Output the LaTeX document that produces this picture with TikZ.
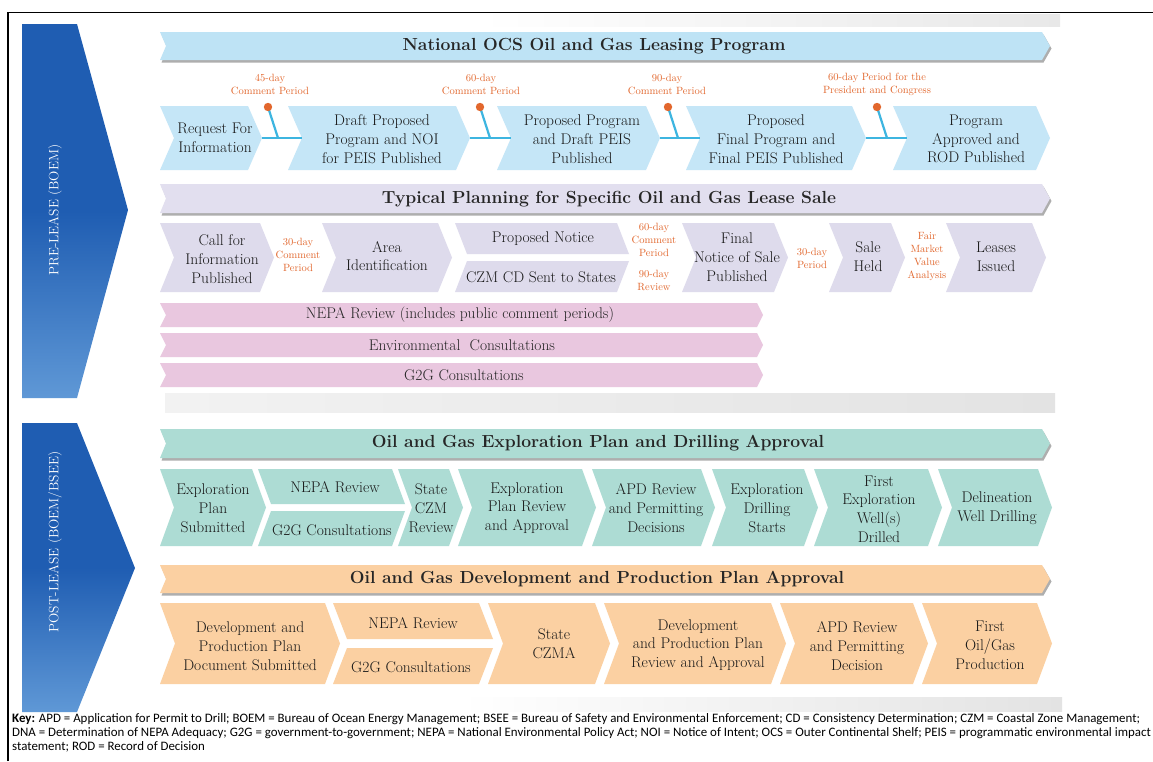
\documentclass[tikz,border=0pt]{standalone}
\usepackage{fontspec}
\newfontfamily\keyfont{Carlito}
\usetikzlibrary{shadows}

\definecolor{rowblue}{HTML}{C5E6F7}
\definecolor{headblue}{HTML}{BEE3F5}
\definecolor{rowlav}{HTML}{DEDBEC}
\definecolor{headlav}{HTML}{E2DFEF}
\definecolor{rowpink}{HTML}{E9C7DF}
\definecolor{rowteal}{HTML}{ADDCD4}
\definecolor{rowpeach}{HTML}{FBD0A2}
\definecolor{notecol}{HTML}{E2672D}
\definecolor{tcyan}{HTML}{3DB5E0}
\definecolor{leasedark}{HTML}{1F5DB2}
\definecolor{leaselight}{HTML}{5F98D6}

\tikzset{
  boxtext/.style={align=center, inner sep=0pt, font=\fontsize{15.5}{18.8}\selectfont, text=black!90},
  notetext/.style={align=center, inner sep=0pt, font=\fontsize{10.5}{13}\selectfont, text=notecol},
  headtext/.style={inner sep=0pt, font=\fontsize{17.5}{20}\selectfont\bfseries, text=black!85},
  bartext/.style={inner sep=0pt, font=\fontsize{15.5}{18}\selectfont, text=black!85},
  sidetext/.style={inner sep=0pt, rotate=90, text=white, font=\fontsize{13.5}{15}\selectfont},
  keytext/.style={anchor=base west, inner sep=0pt, font=\keyfont\fontsize{12.9}{14}\selectfont},
  headshadow/.style={drop shadow={shadow xshift=1.5pt, shadow yshift=-2.5pt, opacity=.45, fill=black!70}},
  tline/.style={tcyan, line width=2.2pt},
  tdot/.style={fill=notecol},
}

% chevron: style, x1, x2, y1, y2, depth
\newcommand{\chev}[6]{\fill[#1] (#2,#4) -- ({#3-#6},#4) -- (#3,{(#4+#5)/2}) -- ({#3-#6},#5) -- (#2,#5) -- ({#2+#6},{(#4+#5)/2}) -- cycle;}
\newcommand{\chevtop}[6]{\fill[#1] (#2,#4) -- ({#3-#6},#4) -- (#3,#5) -- ({#2+#6},#5) -- cycle;}
\newcommand{\chevbot}[6]{\fill[#1] ({#2+#6},#4) -- (#3,#4) -- ({#3-#6},#5) -- (#2,#5) -- cycle;}
% header ribbon: style, y1, y2
\newcommand{\headbar}[3]{\fill[#1, headshadow] (160,#2) -- (1042,#2) -- (1050,{(#2+#3)/2}) -- (1042,#3) -- (160,#3) -- (166,{(#2+#3)/2}) -- cycle;}

\begin{document}
\begin{tikzpicture}[x=1pt,y=-1pt]
\fill[white] (0,0) rectangle (1153,761);
\useasboundingbox (0,0) rectangle (1153,761);

% frame and gray bands
\draw[line width=1.2pt] (8,761) -- (8,12.5) -- (1153,12.5);
\shade[left color=white, right color=black!9] (480,14) rectangle (1060,26);
\shade[left color=black!5, right color=black!11] (165,393) rectangle (1055,412);
\shade[left color=white, right color=black!11] (460,697) rectangle (1062,711);

% side arrows
\shade[top color=leasedark, bottom color=leaselight, middle color=leasedark] (22,24) -- (77,24) -- (128,210) -- (77,398) -- (22,398) -- cycle;
\shade[top color=leasedark, bottom color=leaselight, middle color=leasedark] (22,423) -- (77,423) -- (135,568) -- (77,712) -- (22,712) -- cycle;
\node[sidetext] (pre) at (55,210) {PRE-LEASE (BOEM)};
\node[sidetext] (post) at (55,542) {POST-LEASE (BOEM/BSEE)};

% National program
\headbar{headblue}{32}{60}
\node[headtext] (h1) at (594,46) {National OCS Oil and Gas Leasing Program};
\chev{rowblue}{160}{262}{106}{170}{14}
\chev{rowblue}{288}{470}{106}{170}{14}
\chev{rowblue}{497}{660}{106}{170}{14}
\chev{rowblue}{686}{866}{106}{170}{14}
\chev{rowblue}{893}{1050}{106}{170}{14}
\node[boxtext] (req) at (215,138) {Request For\\Information};
\node[boxtext] (dpp) at (382,139) {Draft Proposed\\Program and NOI\\for PEIS Published};
\node[boxtext] (ppd) at (582,139) {Proposed Program\\and Draft PEIS\\Published};
\node[boxtext] (pfp) at (776,139) {Proposed\\Final Program and\\Final PEIS Published};
\node[boxtext] (pap) at (976,139) {Program\\Approved and\\ROD Published};
\node[notetext] (n45) at (270,84) {45-day\\Comment Period};
\node[notetext] (n60) at (481,84) {60-day\\Comment Period};
\node[notetext] (n90) at (667,84) {90-day\\Comment Period};
\node[notetext] (n60p) at (877,84) {60-day Period for the\\President and Congress};
\foreach \i/\dx/\ax/\bx in {1/268/262/302, 2/480/470/511, 3/668/660/700, 4/877/866/907} {
  \coordinate (dot\i) at (\dx,107);
  \coordinate (foot\i) at (\dx+10,138);
  \coordinate (gapa\i) at (\ax,138);
  \coordinate (gapb\i) at (\bx,138);
  \draw[tline] (gapa\i) -- (gapb\i);
  \draw[tline] (dot\i) -- (foot\i);
  \fill[tdot] (dot\i) circle (4.2pt);
}

% lease sale planning
\headbar{headlav}{184}{213}
\node[headtext] (h2) at (609,199) {Typical Planning for Specific Oil and Gas Lease Sale};
\chev{rowlav}{160}{274}{223}{292}{14}
\chev{rowlav}{322}{452}{223}{292}{14}
\chevtop{rowlav}{455}{629}{223}{254}{12}
\chevbot{rowlav}{455}{629}{261}{292}{12}
\chev{rowlav}{682}{788}{223}{292}{14}
\chev{rowlav}{829}{905}{223}{292}{14}
\chev{rowlav}{946}{1046}{223}{292}{14}
\node[boxtext] (cfi) at (222,259) {Call for\\Information\\Published};
\node[boxtext] (aid) at (387,256) {Area\\Identification};
\node[boxtext] (pnot) at (543,239) {Proposed Notice};
\node[boxtext] (czm) at (541,277) {CZM CD Sent to States};
\node[boxtext] (fns) at (737,257) {Final\\Notice of Sale\\Published};
\node[boxtext] (sale) at (868,257) {Sale\\Held};
\node[boxtext] (lease) at (996,257) {Leases\\Issued};
\node[notetext] (n30) at (298,255) {30-day\\Comment\\Period};
\node[notetext] (n60c) at (654,240) {60-day\\Comment\\Period};
\node[notetext] (n90r) at (654,280) {90-day\\Review};
\node[notetext] (n30p) at (812,258) {30-day\\Period};
\node[notetext] (nfmv) at (927,256) {Fair\\Market\\Value\\Analysis};

% parallel reviews
\chev{rowpink}{160}{763}{303}{327}{6}
\chev{rowpink}{160}{763}{333}{357}{6}
\chev{rowpink}{160}{763}{363}{387}{6}
\node[bartext] (nepa) at (460,315) {NEPA Review (includes public comment periods)};
\node[bartext] (envc) at (462,345) {Environmental~ Consultations};
\node[bartext] (g2gc) at (464,375) {G2G Consultations};

% exploration
\headbar{rowteal}{429}{458}
\node[headtext] (h3) at (598,443) {Oil and Gas Exploration Plan and Drilling Approval};
\chev{rowteal}{160}{266}{469}{546}{14}
\chevtop{rowteal}{258}{405}{469}{504}{13}
\chevbot{rowteal}{258}{405}{511}{546}{13}
\chev{rowteal}{398}{463}{469}{546}{14}
\chev{rowteal}{458}{596}{469}{546}{14}
\chev{rowteal}{592}{715}{469}{546}{14}
\chev{rowteal}{712}{818}{469}{546}{14}
\chev{rowteal}{814}{942}{469}{546}{14}
\chev{rowteal}{938}{1052}{469}{546}{14}
\node[boxtext] (eps) at (213,508) {Exploration\\Plan\\Submitted};
\node[boxtext] (enepa) at (335,487) {NEPA Review};
\node[boxtext] (eg2g) at (332,530) {G2G Consultations};
\node[boxtext] (scz) at (431,508) {State\\CZM\\Review};
\node[boxtext] (epr) at (527,508) {Exploration\\Plan Review\\and Approval};
\node[boxtext] (apd) at (656,508) {APD Review\\and Permitting\\Decisions};
\node[boxtext] (eds) at (767,508) {Exploration\\Drilling\\Starts};
\node[boxtext] (few) at (879,509) {First\\Exploration\\Well(s)\\Drilled};
\node[boxtext] (dwd) at (997,508) {Delineation\\Well Drilling};

% development
\headbar{rowpeach}{565}{593}
\node[headtext] (h4) at (597,579) {Oil and Gas Development and Production Plan Approval};
\chev{rowpeach}{160}{340}{603}{684}{15}
\chevtop{rowpeach}{333}{493}{603}{639}{14}
\chevbot{rowpeach}{333}{493}{648}{684}{14}
\chev{rowpeach}{488}{610}{603}{684}{15}
\chev{rowpeach}{604}{786}{603}{684}{15}
\chev{rowpeach}{780}{928}{603}{684}{15}
\chev{rowpeach}{922}{1052}{603}{684}{15}
\node[boxtext] (dps) at (250,646) {Development and\\Production Plan\\Document Submitted};
\node[boxtext] (dnepa) at (413,623) {NEPA Review};
\node[boxtext] (dg2g) at (411,667) {G2G Consultations};
\node[boxtext] (sczma) at (554,644) {State\\CZMA};
\node[boxtext] (dpr) at (698,645) {Development\\and Production Plan\\Review and Approval};
\node[boxtext] (dapd) at (857,646) {APD Review\\and Permitting\\Decision};
\node[boxtext] (fog) at (990,645) {First\\Oil/Gas\\Production};

% key
\node[keytext] (key1) at (12,722) {\textbf{Key:} APD = Application for Permit to Drill; BOEM = Bureau of Ocean Energy Management; BSEE = Bureau of Safety and Environmental Enforcement; CD = Consistency Determination; CZM = Coastal Zone Management;};
\node[keytext] (key2) at (12,736) {DNA = Determination of NEPA Adequacy; G2G = government-to-government; NEPA = National Environmental Policy Act; NOI = Notice of Intent; OCS = Outer Continental Shelf; PEIS = programmatic environmental impact};
\node[keytext] (key3) at (12,750) {statement; ROD = Record of Decision};
\end{tikzpicture}
\end{document}
